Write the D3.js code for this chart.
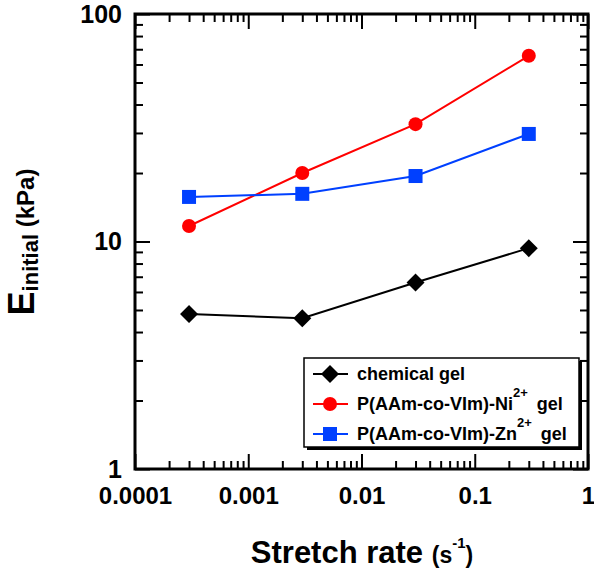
<!DOCTYPE html>
<html><head><meta charset="utf-8">
<script src="https://cdn.jsdelivr.net/npm/d3@7"></script>
<style>
body{margin:0;background:#fff}
text{font-family:"Liberation Sans",Arial,Helvetica,sans-serif;font-weight:bold;fill:#000}
</style></head>
<body><svg id="c" width="594" height="571"></svg>
<script>
// ---- data ----
const rates = [0.0003, 0.003, 0.03, 0.3];
const chemicalGel = [4.8, 4.6, 6.6, 9.35];
const nickelGel = [11.7, 20.0, 32.8, 65.5];
const zincGel = [15.7, 16.2, 19.4, 29.7];
const xTickValues = [0.0001, 0.001, 0.01, 0.1, 1];
const xTickLabels = ["0.0001", "0.001", "0.01", "0.1", "1"];
const yTickValues = [1, 10, 100];
const yTickLabels = ["1", "10", "100"];
const seriesNames = ["chemical gel", "P(AAm-co-VIm)-Ni", "P(AAm-co-VIm)-Zn"];
const seriesSup = ["", "2+", "2+"];
const seriesColors = ["#000000", "#ff0000", "#0040ff"];
const seriesShapes = ["diamond", "circle", "square"];

const series = [chemicalGel, nickelGel, zincGel].map((vals, i) => ({
  name: seriesNames[i], sup: seriesSup[i], color: seriesColors[i], shape: seriesShapes[i],
  points: rates.map((r, j) => ({x: r, y: vals[j]}))
}));

const svg = d3.select("#c");
const L = 135, R = 588, T = 14, B = 469;
const x = d3.scaleLog().domain([1e-4, 1]).range([L, R]);
const y = d3.scaleLog().domain([1, 100]).range([B, T]);

const isMajor = d => Math.abs(Math.log10(d) - Math.round(Math.log10(d))) < 1e-9;
const MAJ = 15, MIN = 8;

function styleTicks(g) {
  g.select(".domain").remove();
  g.selectAll(".tick line").attr("stroke", "#000").attr("stroke-width", 2);
  g.selectAll(".tick text").remove();
}
svg.append("g").attr("transform", `translate(0,${B})`)
  .call(d3.axisBottom(x).tickValues(x.ticks()).tickFormat("").tickSizeOuter(0).tickSizeInner(-MIN))
  .call(g => { styleTicks(g); g.selectAll(".tick line").attr("y2", d => isMajor(d) ? -MAJ : -MIN); });
svg.append("g").attr("transform", `translate(0,${T})`)
  .call(d3.axisTop(x).tickValues(x.ticks()).tickFormat("").tickSizeOuter(0).tickSizeInner(-MIN))
  .call(g => { styleTicks(g); g.selectAll(".tick line").attr("y2", d => isMajor(d) ? MAJ : MIN); });
svg.append("g").attr("transform", `translate(${L},0)`)
  .call(d3.axisLeft(y).tickValues(y.ticks()).tickFormat("").tickSizeOuter(0).tickSizeInner(-MIN))
  .call(g => { styleTicks(g); g.selectAll(".tick line").attr("x2", d => isMajor(d) ? MAJ : MIN); });
svg.append("g").attr("transform", `translate(${R},0)`)
  .call(d3.axisRight(y).tickValues(y.ticks()).tickFormat("").tickSizeOuter(0).tickSizeInner(-MIN))
  .call(g => { styleTicks(g); g.selectAll(".tick line").attr("x2", d => isMajor(d) ? -MAJ : -MIN); });

svg.append("rect").attr("x", L).attr("y", T).attr("width", R - L).attr("height", B - T)
  .attr("fill", "none").attr("stroke", "#000").attr("stroke-width", 3);

// tick labels
svg.append("g").attr("transform", `translate(0,${B})`)
  .call(d3.axisBottom(x).tickValues(xTickValues).tickFormat((d, i) => xTickLabels[i]).tickSize(0).tickPadding(18))
  .call(g => { g.select(".domain").remove(); g.selectAll("text").attr("font-size", 24).attr("font-family", null); });
svg.append("g").attr("transform", `translate(${L},0)`)
  .call(d3.axisLeft(y).tickValues(yTickValues).tickFormat((d, i) => yTickLabels[i]).tickSize(0).tickPadding(13))
  .call(g => { g.select(".domain").remove(); g.selectAll("text").attr("font-size", 25).attr("font-family", null); });

// lines and markers
const line = d3.line().x(d => x(d.x)).y(d => y(d.y));
function marker(sel, shape, color) {
  if (shape === "circle") sel.append("circle").attr("r", 7).attr("fill", color);
  else if (shape === "square") sel.append("rect").attr("x", -7).attr("y", -7).attr("width", 14).attr("height", 14).attr("fill", color);
  else sel.append("path").attr("d", "M0,-9L9,0L0,9L-9,0Z").attr("fill", color);
}
series.forEach(s => {
  svg.append("path").datum(s.points).attr("d", line).attr("fill", "none")
    .attr("stroke", s.color).attr("stroke-width", 2);
  s.points.forEach(p => {
    const g = svg.append("g").attr("transform", `translate(${x(p.x)},${y(p.y)})`);
    marker(g, s.shape, s.color);
  });
});

// legend
const lg = svg.append("g");
lg.append("rect").attr("x", 307).attr("y", 361).attr("width", 275).attr("height", 89).attr("fill", "#000");
lg.append("rect").attr("x", 304).attr("y", 358).attr("width", 275).attr("height", 89)
  .attr("fill", "#fff").attr("stroke", "#000").attr("stroke-width", 1.5);
series.forEach((s, i) => {
  const cy = 374 + i * 30;
  lg.append("line").attr("x1", 313).attr("x2", 348).attr("y1", cy).attr("y2", cy)
    .attr("stroke", s.color).attr("stroke-width", 2);
  const g = lg.append("g").attr("transform", `translate(330,${cy})`);
  marker(g, s.shape, s.color);
  const t = lg.append("text").attr("x", 357).attr("y", cy + 6).attr("font-size", 18);
  t.append("tspan").text(s.name);
  if (s.sup) {
    t.append("tspan").attr("font-size", 13).attr("dy", -13).text(s.sup);
    t.append("tspan").attr("dy", 13).attr("dx", 4).text(" gel");
  }
});

// axis titles
const xt = svg.append("text").attr("x", 362).attr("y", 563).attr("text-anchor", "middle");
xt.append("tspan").attr("font-size", 31).text("Stretch rate ");
xt.append("tspan").attr("font-size", 23).text("(s");
xt.append("tspan").attr("font-size", 15).attr("dy", -15).text("-1");
xt.append("tspan").attr("font-size", 23).attr("dy", 15).text(")");

const yt = svg.append("text").attr("transform", "translate(34,242) rotate(-90)").attr("text-anchor", "middle");
yt.append("tspan").attr("font-size", 36).text("E");
yt.append("tspan").attr("font-size", 22).attr("dy", 4).text("initial");
yt.append("tspan").attr("font-size", 24).attr("dy", -4).text(" (kPa)");
</script></body></html>
